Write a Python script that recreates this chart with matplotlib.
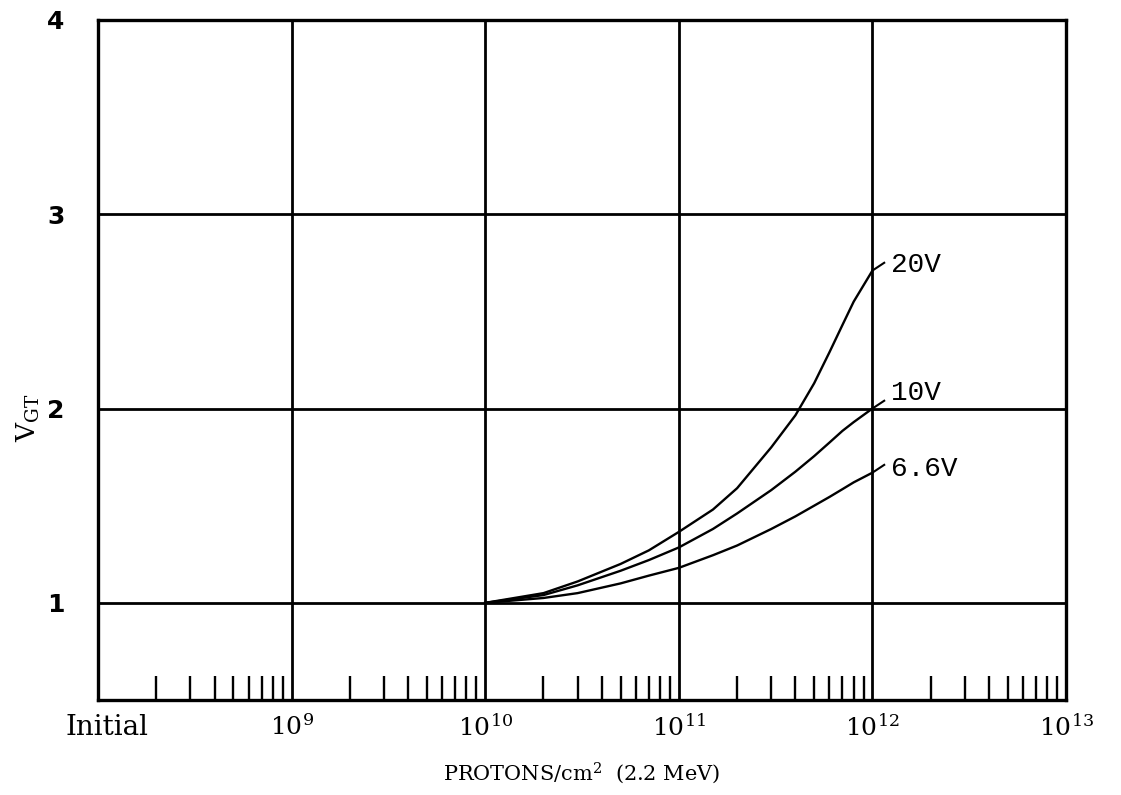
import matplotlib
matplotlib.use("Agg")
import matplotlib.pyplot as plt
import matplotlib.transforms as mtransforms
import numpy as np
from matplotlib.ticker import LogLocator, NullFormatter, FixedLocator, FixedFormatter

plt.rcParams['font.family'] = ['DejaVu Serif']
plt.rcParams['mathtext.fontset'] = 'dejavuserif'

# fluence (protons/cm^2) and threshold voltage
fluence = [1e10, 2e10, 3e10, 5e10, 7e10, 1e11, 1.5e11, 2e11, 3e11,
           4e11, 5e11, 6e11, 7e11, 8e11, 1e12]
v_20 = [1.0, 1.05, 1.11, 1.20, 1.27, 1.365, 1.48, 1.59, 1.80,
        1.965, 2.13, 2.29, 2.43, 2.55, 2.71]
v_10 = [1.0, 1.04, 1.09, 1.165, 1.22, 1.285, 1.38, 1.46, 1.58,
        1.675, 1.755, 1.825, 1.885, 1.93, 2.00]
v_66 = [1.0, 1.025, 1.05, 1.10, 1.14, 1.18, 1.245, 1.295, 1.38,
        1.445, 1.50, 1.545, 1.585, 1.62, 1.67]

curve_labels = ['20V', '10V', '6.6V']
label_y = [2.74, 2.08, 1.69]

x_ticks = [1e8, 1e9, 1e10, 1e11, 1e12, 1e13]
x_ticklabels = ['Initial', '$10^{9}$', '$10^{10}$', '$10^{11}$', '$10^{12}$', '$10^{13}$']
y_ticks = [1, 2, 3, 4]

fig = plt.figure(figsize=(11.21, 7.95), dpi=100)
ax = fig.add_axes([0.0874, 0.1195, 0.8636, 0.8555])

ax.set_xscale('log')
ax.set_xlim(1e8, 1e13)
ax.set_ylim(0.5, 4)

# grid
for x in x_ticks[1:-1]:
    ax.axvline(x, color='black', lw=2.0, zorder=1)
for y in y_ticks[:-1]:
    ax.axhline(y, color='black', lw=2.0, zorder=1)

for vals, lab, yy in zip((v_20, v_10, v_66), curve_labels, label_y):
    ax.plot(fluence, vals, color='black', lw=1.7, zorder=2)
    # little leader stroke from the curve end towards its label
    ax.plot([fluence[-1], fluence[-1] * 1.15], [vals[-1], vals[-1] + 0.04],
            color='black', lw=1.5, zorder=2)
    ax.text(1.25e12, yy, lab, fontsize=20, family='Liberation Mono',
            va='center', ha='left')

for s in ax.spines.values():
    s.set_linewidth(2.4)

ax.xaxis.set_major_locator(FixedLocator(x_ticks))
ax.xaxis.set_major_formatter(FixedFormatter(x_ticklabels))
ax.xaxis.set_minor_locator(LogLocator(base=10, subs=np.arange(2, 10), numticks=20))
ax.xaxis.set_minor_formatter(NullFormatter())
ax.tick_params(axis='x', which='major', length=0, labelsize=18, pad=10)
ax.tick_params(axis='x', which='minor', direction='in', length=17, width=1.7)

# "Initial" sits a bit right of the axis corner
lab0 = ax.get_xticklabels()[0]
lab0.set_fontsize(20)
lab0.set_transform(lab0.get_transform() +
                   mtransforms.ScaledTranslation(0.09, 0, fig.dpi_scale_trans))

ax.set_yticks(y_ticks)
ax.set_yticklabels([str(v) for v in y_ticks], fontsize=18, fontweight='bold',
                   family='DejaVu Sans')
ax.tick_params(axis='y', length=0, pad=24)

ax.set_xlabel('PROTONS/cm$^2$  (2.2 MeV)', fontsize=15, labelpad=14)
ax.set_ylabel('$\\mathrm{V_{GT}}$', fontsize=19)
ax.yaxis.set_label_coords(-0.058, 0.415)

fig.savefig('out.png', dpi=100)
